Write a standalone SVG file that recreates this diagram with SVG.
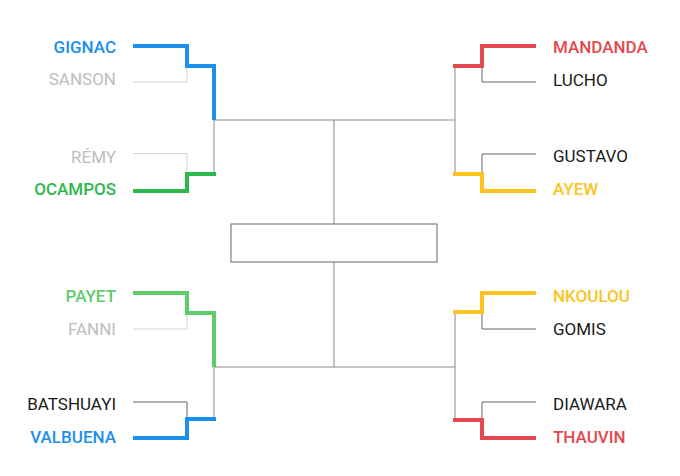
<svg xmlns="http://www.w3.org/2000/svg" width="680" height="476" viewBox="0 0 680 476">
<style>
text{font-family:Roboto,"Liberation Sans",sans-serif;font-size:17px}
.l{text-anchor:end}
.thin{fill:none;stroke:#666;stroke-width:1}
.mid{fill:none;stroke:#8a8a8a;stroke-width:1}
.faint{fill:none;stroke:#d2d2d2;stroke-width:1}
.w{fill:none;stroke-width:4;stroke-linejoin:miter;stroke-linecap:butt}
.blue{stroke:#1a8fec}.tblue{fill:#1a8fec;font-weight:500}
.green{stroke:#2db84b}.tgreen{fill:#2db84b;font-weight:500}
.lgreen{stroke:#5fcc6b}.tlgreen{fill:#5fcc6b;font-weight:500}
.red{stroke:#e5484e}.tred{fill:#e5484e;font-weight:500}
.yel{stroke:#fcc41c}.tyel{fill:#fcc41c;font-weight:500}
.tgray{fill:#bdbdbd}.tblack{fill:#1a1a1a}
</style>
<g id="connectors">
<path class="mid" d="M214 120H455M334 120V224M334 262V367M214 367H455"/>
<path class="mid" d="M214 120V174M214 366V419M455 66V174M455 312V420"/>
<path class="faint" d="M133 82H187V66M133 153.5H187V174M133 329H187V313"/>
<path class="thin" d="M133 402H187V419M536 82H482V66M536 154H482V174M536 329H482V312M536 402H482V420"/>
<path class="w blue" d="M133 46H187V66H214V120"/>
<path class="w green" d="M133 191H187V174H216"/>
<path class="w lgreen" d="M133 293H187V313H214V367"/>
<path class="w blue" d="M133 438H187V419H216"/>
<path class="w red" d="M453 66H482V46H536"/>
<path class="w yel" d="M453 174H482V191H536"/>
<path class="w yel" d="M453 312H482V293H536"/>
<path class="w red" d="M453 420H482V438H536"/>
</g>
<g id="final"><rect x="231" y="224" width="206" height="38" fill="#fff" stroke="#666" stroke-width="1"/></g>
<g id="gignac"><text class="l tblue" x="116" y="53">GIGNAC</text></g>
<g id="sanson"><text class="l tgray" x="116" y="85">SANSON</text></g>
<g id="remy"><text class="l tgray" x="116" y="162.5">RÉMY</text></g>
<g id="ocampos"><text class="l tgreen" x="116" y="194.5">OCAMPOS</text></g>
<g id="payet"><text class="l tlgreen" x="116" y="302">PAYET</text></g>
<g id="fanni"><text class="l tgray" x="116" y="335">FANNI</text></g>
<g id="batshuayi"><text class="l tblack" x="116" y="409.5">BATSHUAYI</text></g>
<g id="valbuena"><text class="l tblue" x="116" y="443">VALBUENA</text></g>
<g id="mandanda"><text class="tred" x="553" y="53">MANDANDA</text></g>
<g id="lucho"><text class="tblack" x="553" y="85.5">LUCHO</text></g>
<g id="gustavo"><text class="tblack" x="553" y="162">GUSTAVO</text></g>
<g id="ayew"><text class="tyel" x="553" y="194.5">AYEW</text></g>
<g id="nkoulou"><text class="tyel" x="553" y="302">NKOULOU</text></g>
<g id="gomis"><text class="tblack" x="553" y="334.5">GOMIS</text></g>
<g id="diawara"><text class="tblack" x="553" y="409.5">DIAWARA</text></g>
<g id="thauvin"><text class="tred" x="553" y="443">THAUVIN</text></g>
</svg>
